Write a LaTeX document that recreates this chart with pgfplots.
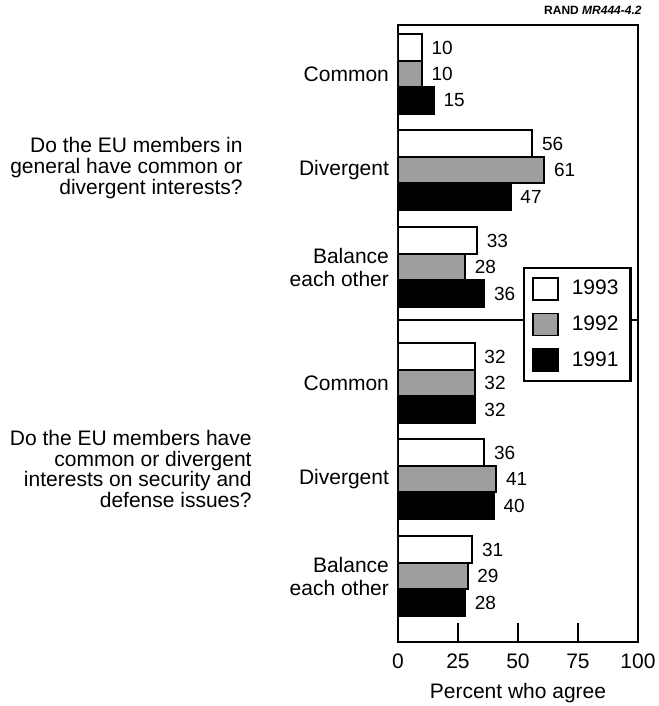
\documentclass[border=0pt]{standalone}
\usepackage{fontspec}
\setmainfont{Liberation Sans}
\usepackage{pgfplots}
\pgfplotsset{compat=1.18}
\usetikzlibrary{calc}

\definecolor{midgray}{gray}{0.62}

\begin{document}
\begin{tikzpicture}[x=1pt,y=1pt]
\begin{axis}[
    scale only axis, width=120pt, height=308.5pt,
    xmin=0, xmax=100, ymin=25, ymax=642, y dir=reverse,
    xbar, bar width=13.25pt,
    every axis plot/.append style={bar shift=0pt, line width=1pt, draw=black},
    axis line style={line width=1.3pt},
    xtick={0,25,50,75,100}, xtick pos=bottom, tick align=inside,
    major tick length=9.5pt,
    x tick style={line width=1.2pt, black},
    ytick={74,170,267,383,479,576},
    yticklabels={Common, Divergent, {Balance\\each other}, Common, Divergent, {Balance\\each other}},
    y tick style={draw=none},
    yticklabel style={align=right, font=\fontsize{10.5}{11.5}\selectfont, xshift=-1pt},
    xticklabel style={font=\fontsize{10.5}{12}\selectfont, yshift=-2.5pt},
    /pgf/number format/assume math mode=true,
    xlabel={Percent who agree},
    xlabel style={font=\fontsize{10.5}{12}\selectfont, yshift=-0.5pt},
    point meta=x,
    nodes near coords,
    every node near coord/.append style={font=\fontsize{9.5}{11}\selectfont, anchor=west, xshift=1pt},
    legend style={at={(0.52,0.608)}, anchor=north west, draw=black, line width=1.2pt,
        fill=white, font=\fontsize{10.5}{12}\selectfont, row sep=5pt,
        inner xsep=4pt, inner ysep=4pt},
    legend cell align=left,
    legend image code/.code={\draw[#1, line width=0.8pt] (3pt,-5.5pt) rectangle (15.5pt,5.5pt);
        \path (20pt,0pt);},
]
% 1993
\addplot[fill=white] coordinates {
    (10,47.5) (56,143.5) (33,240.5) (32,356.5) (36,452.5) (31,549.5)
};
\addlegendentry{1993}
% 1992
\addplot[fill=midgray] coordinates {
    (10,74) (61,170) (28,267) (32,383) (41,479) (29,576)
};
\addlegendentry{1992}
% 1991
\addplot[fill=black] coordinates {
    (15,100.5) (47,196.5) (36,293.5) (32,409.5) (40,505.5) (28,602.5)
};
\addlegendentry{1991}
\draw[line width=1pt] (axis cs:0,320) -- (axis cs:100,320);
\coordinate (tl) at (axis cs:0,25);
\end{axis}

\node[anchor=east, align=right, font=\fontsize{10.5}{10.4}\selectfont, inner sep=0pt]
    at ($(tl)+(-77.5,-71.5)$) {Do the EU members in\\general have common or\\divergent interests?};
\node[anchor=east, align=right, font=\fontsize{10.5}{10.4}\selectfont, inner sep=0pt]
    at ($(tl)+(-73,-222)$) {Do the EU members have\\common or divergent\\interests on security and\\defense issues?};
\node[anchor=east, inner sep=0pt, font=\fontsize{6}{7}\selectfont\bfseries]
    at ($(tl)+(122,7.5)$) {RAND \itshape MR444-4.2};

\pgfresetboundingbox
\path[use as bounding box] ($(tl)+(-199,12.5)$) rectangle ($(tl)+(130,-340.5)$);
\end{tikzpicture}
\end{document}
